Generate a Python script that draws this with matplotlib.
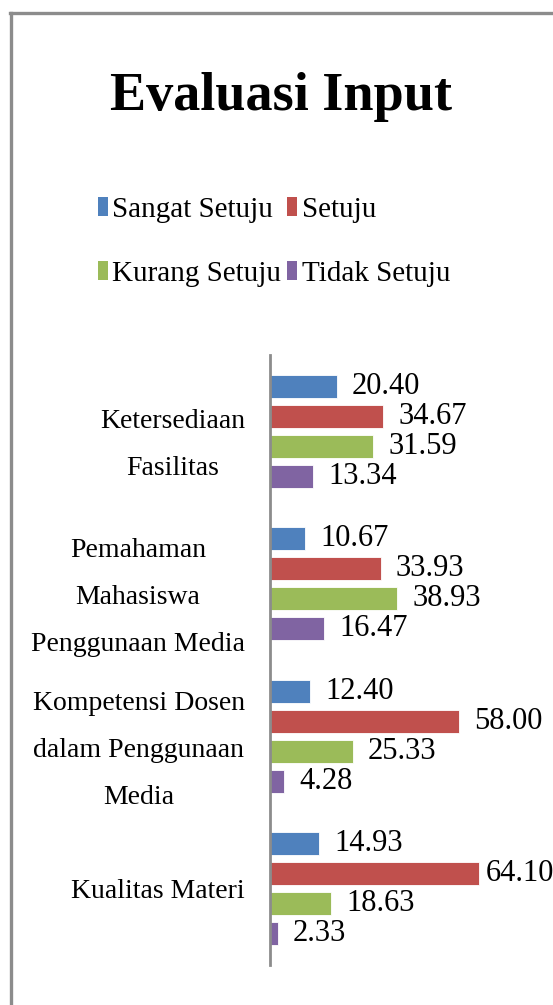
import numpy as np
import matplotlib
matplotlib.use("Agg")
import matplotlib.pyplot as plt
from matplotlib.patches import Rectangle
from matplotlib.lines import Line2D

# data
categories = [
    "Ketersediaan\nFasilitas",
    "Pemahaman\nMahasiswa\nPenggunaan Media",
    "Kompetensi Dosen\ndalam Penggunaan\nMedia",
    "Kualitas Materi",
]
series_names = ["Sangat Setuju", "Setuju", "Kurang Setuju", "Tidak Setuju"]
sangat_setuju = [20.40, 10.67, 12.40, 14.93]
setuju = [34.67, 33.93, 58.00, 64.10]
kurang_setuju = [31.59, 38.93, 25.33, 18.63]
tidak_setuju = [13.34, 16.47, 4.28, 2.33]
colors = ["#4F81BD", "#C0504D", "#9BBB59", "#8064A2"]

plt.rcParams['font.family'] = ['Liberation Serif', 'DejaVu Serif']

W, H = 553, 1005
fig = plt.figure(figsize=(W / 100, H / 100), dpi=100)
fig.patch.set_facecolor("white")

# outer frame (only top and left edges visible)
frame_col = "#8c8c8c"
fig.add_artist(Line2D([10 / W, 1.0], [1 - 13 / H, 1 - 13 / H], color=frame_col, lw=2.4,
                      transform=fig.transFigure))
fig.add_artist(Line2D([11 / W, 11 / W], [0.0, 1 - 13 / H], color=frame_col, lw=2.4,
                      transform=fig.transFigure))

fig.text(281 / W, 1 - 97 / H, "Evaluasi Input", ha="center", va="center",
         fontsize=39, fontweight="bold")

ax = fig.add_axes([270 / W, 1 - 965 / H, (W - 270) / W, 610 / H])

y = np.arange(len(categories))
pitch = 0.197
bar_h = 0.152
all_series = [sangat_setuju, setuju, kurang_setuju, tidak_setuju]
for k, (vals, col, name) in enumerate(zip(all_series, colors, series_names)):
    pos = y + (k - 1.5) * pitch
    bars = ax.barh(pos, vals, height=bar_h, color=col, edgecolor="white",
                   linewidth=0.6, label=name)
    for b, v in zip(bars, vals):
        # the longest bar's label sits closer so it stays inside the picture
        pad = 5 if v > 60 else 11
        ax.annotate(f"{v:.2f}", (b.get_width(), b.get_y() + b.get_height() / 2),
                    xytext=(pad, 0), textcoords="offset points",
                    ha="left", va="center", fontsize=22, annotation_clip=False)

ax.set_ylim(len(categories) - 0.5, -0.5)
ax.set_xlim(0, 86.8)
ax.set_yticks(y)
ax.set_yticklabels(categories, fontsize=20, multialignment="center", linespacing=2.15)
ax.set_xticks([])
ax.tick_params(axis="y", length=0, pad=18)
for s in ["top", "right", "bottom"]:
    ax.spines[s].set_visible(False)
ax.spines["left"].set_color("#8c8c8c")
ax.spines["left"].set_linewidth(2.0)

# legend in row-major order: two columns
order = [0, 2, 1, 3]
proxies = [Rectangle((0, 0), 1, 1, facecolor=colors[i], edgecolor="none") for i in order]
fig.legend(proxies, [series_names[i] for i in order], ncol=2,
           loc="upper left", bbox_to_anchor=(86 / W, 1 - 185 / H),
           frameon=False, fontsize=21, handlelength=0.35, handleheight=0.65,
           handletextpad=0.15, columnspacing=0.2, labelspacing=1.31, borderaxespad=0)

fig.savefig("out.png", dpi=100)
